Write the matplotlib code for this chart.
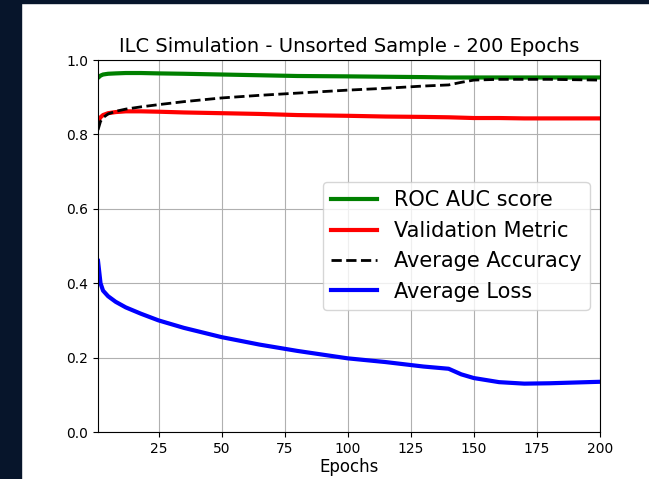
import matplotlib.pyplot as plt
from matplotlib.patches import Rectangle

# Data
epochs = [1, 2, 3, 5, 8, 12, 18, 25, 35, 50, 65, 80, 100, 115, 130, 140, 145, 150, 160, 170, 180, 190, 200]

roc_auc = [0.952, 0.958, 0.961, 0.963, 0.964, 0.965, 0.965, 0.964, 0.963, 0.961, 0.959, 0.957, 0.956, 0.955, 0.954,
           0.953, 0.953, 0.953, 0.953, 0.953, 0.953, 0.953, 0.953]
val_metric = [0.835, 0.846, 0.852, 0.857, 0.860, 0.862, 0.862, 0.861, 0.859, 0.857, 0.855, 0.852, 0.850, 0.848, 0.847,
              0.846, 0.845, 0.844, 0.844, 0.843, 0.843, 0.843, 0.843]
avg_acc = [0.812, 0.835, 0.845, 0.855, 0.862, 0.868, 0.874, 0.880, 0.888, 0.898, 0.905, 0.911, 0.919, 0.924, 0.930,
           0.933, 0.940, 0.946, 0.948, 0.948, 0.948, 0.947, 0.946]
avg_loss = [0.46, 0.40, 0.38, 0.365, 0.35, 0.335, 0.318, 0.300, 0.280, 0.255, 0.235, 0.218, 0.198, 0.188, 0.176,
            0.170, 0.155, 0.145, 0.134, 0.130, 0.131, 0.133, 0.135]

fig = plt.figure(figsize=(6.49, 4.79), dpi=100)
fig.patch.set_facecolor('white')
# dark frame visible at the left and top of the screenshot
fig.patches.append(Rectangle((0, 0), 21 / 649, 1, transform=fig.transFigure, color='#07152b', zorder=-1))
fig.patches.append(Rectangle((0, 1 - 3 / 479), 1, 3 / 479, transform=fig.transFigure, color='#07152b', zorder=-1))

ax = fig.add_axes([98 / 649, 1 - 432 / 479, 502 / 649, 372 / 479])
ax.plot(epochs, roc_auc, color='green', lw=3, label='ROC AUC score')
ax.plot(epochs, val_metric, color='red', lw=3, label='Validation Metric')
ax.plot(epochs, avg_acc, color='black', lw=2, ls='--', label='Average Accuracy')
ax.plot(epochs, avg_loss, color='blue', lw=3, label='Average Loss')

ax.set_xlim(1, 200)
ax.set_ylim(0, 1)
ax.set_xticks([25, 50, 75, 100, 125, 150, 175, 200])
ax.set_yticks([0.0, 0.2, 0.4, 0.6, 0.8, 1.0])
ax.tick_params(labelsize=10)
ax.grid(True)
ax.set_xlabel('Epochs', fontsize=12, labelpad=2)
ax.set_title('ILC Simulation - Unsorted Sample - 200 Epochs', fontsize=14)
ax.legend(loc='center right', fontsize=15, handlelength=2.2)

fig.savefig('out.png', dpi=100)
